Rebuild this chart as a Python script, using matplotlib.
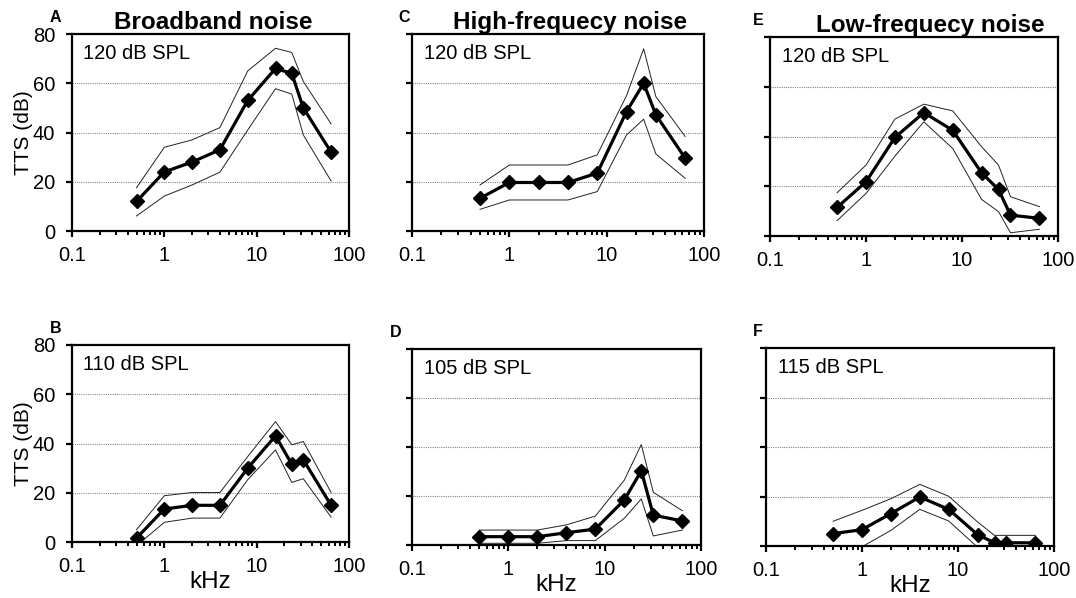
import numpy as np
import matplotlib
matplotlib.use("Agg")
from matplotlib import pyplot as plt
from matplotlib.ticker import FixedLocator, NullFormatter

plt.rcParams['font.family'] = ['Liberation Sans', 'DejaVu Sans']

# frequencies (kHz)
freqs = [0.5, 1, 2, 4, 8, 16, 24, 32, 64]

# A: broadband 120 dB
a_mean = [12, 24, 28, 33, 53, 66, 64, 50, 32]
a_up = [17.6, 34, 37, 42, 65, 74.2, 72.5, 60.7, 43.5]
a_lo = [6.1, 14.2, 18.7, 23.9, 41, 57.8, 55.6, 39, 20.3]

# B: broadband 110 dB
b_mean = [1.6, 13.4, 14.9, 14.9, 30, 43.1, 31.6, 33.4, 14.9]
b_up = [5, 18.8, 20.1, 20.1, 34.7, 48.9, 39.5, 40.8, 20.1]
b_lo = [-1.5, 8, 9.7, 9.7, 25.3, 37.4, 24.2, 25.7, 10.1]

# C: high-frequency 120 dB
c_mean = [13.3, 19.7, 19.7, 19.7, 23.5, 48.5, 60, 47.2, 29.6]
c_up = [18.7, 26.8, 26.8, 26.8, 30.9, 55, 74, 54.6, 38.4]
c_lo = [8.8, 12.6, 12.6, 12.6, 16, 39, 45.4, 31.3, 21.4]

# D: high-frequency 105 dB
d_mean = [3.4, 3.4, 3.4, 5, 6.5, 18.4, 30.3, 12.2, 9.8]
d_up = [6.1, 6.1, 6.1, 8.2, 11.8, 26.5, 41, 21.5, 14]
d_lo = [0.7, 0.7, 0.7, 1.8, 1.8, 10.9, 18.8, 3.7, 6.1]

# E: low-frequency 120 dB
e_mean = [11.5, 21.8, 39.6, 49.6, 42.5, 25.4, 18.7, 8.4, 7.1]
e_up = [17.4, 28.5, 47, 53, 50.3, 35.9, 28.5, 15.8, 11.8]
e_lo = [6.2, 17.1, 32.1, 45.9, 35.2, 14.7, 9.8, 1.3, 2.7]

# F: low-frequency 115 dB
f_mean = [5, 6.6, 13.1, 19.8, 14.8, 4.6, 1.3, 1.3, 1.3]
f_up = [10, 14.4, 19.1, 24.9, 20.1, 9.7, 4.3, 4.3, 4.3]
f_lo = [-5, -0.3, 6.3, 14.8, 10.1, -0.5, -1, -1, -1]

titles = ["Broadband noise", "High-frequecy noise", "Low-frequecy noise"]
title_x = [0.51, 0.54, 0.555]

W, H = 1076, 598
fig = plt.figure(figsize=(W / 100, H / 100), dpi=100)

# pixel boxes: left, right, top, bottom ; letter offset in px
panels = [
    ("A", (72, 349, 34, 231), -22, a_mean, a_up, a_lo, "120 dB SPL", 0, 0),
    ("B", (72, 349, 345, 542), -22, b_mean, b_up, b_lo, "110 dB SPL", 0, 1),
    ("C", (412, 704, 34, 231), -14, c_mean, c_up, c_lo, "120 dB SPL", 1, 0),
    ("D", (412, 701, 349, 545), -22, d_mean, d_up, d_lo, "105 dB SPL", 1, 1),
    ("E", (770, 1058, 37, 236), -17, e_mean, e_up, e_lo, "120 dB SPL", 2, 0),
    ("F", (766, 1054, 348, 546), -13, f_mean, f_up, f_lo, "115 dB SPL", 2, 1),
]

for letter, (l, r, t, b), loff, mean, up, lo, level, col, row in panels:
    ax = fig.add_axes([l / W, 1 - b / H, (r - l) / W, (b - t) / H])
    ax.plot(freqs, up, color='#222222', lw=0.7)
    ax.plot(freqs, lo, color='#222222', lw=0.7)
    ax.plot(freqs, mean, color='black', lw=2.3, marker='D', markersize=7.5)
    ax.set_xscale('log')
    ax.set_xlim(0.1, 100)
    ax.set_ylim(0, 80)
    ax.set_yticks([0, 20, 40, 60, 80])
    ax.xaxis.set_major_locator(FixedLocator([0.1, 1, 10, 100]))
    ax.set_xticklabels(["0.1", "1", "10", "100"])
    ax.xaxis.set_minor_locator(FixedLocator(
        [m * d for d in (0.1, 1, 10) for m in range(2, 10)]))
    ax.xaxis.set_minor_formatter(NullFormatter())
    for y in (20, 40, 60):
        ax.axhline(y, color='#888888', lw=0.8, ls=(0, (1, 1)), zorder=0)
    for s in ax.spines.values():
        s.set_linewidth(1.6)
    ax.tick_params(which='major', direction='out', length=4, width=1.6,
                   labelsize=14.5)
    ax.tick_params(axis='x', pad=7)
    ax.tick_params(axis='y', pad=8)
    ax.tick_params(which='minor', direction='out', length=3, width=1.4)
    if col == 0:
        ax.set_ylabel("TTS (dB)", fontsize=15, labelpad=0)
    else:
        ax.set_yticklabels([])
    if row == 1:
        ax.set_xlabel("kHz", fontsize=17.5, labelpad=-4)
    else:
        ax.set_title(titles[col], fontsize=17.5, fontweight='bold', pad=3,
                     x=title_x[col])
    ax.text(0.04, 0.95, level, transform=ax.transAxes, fontsize=14.5,
            va='top', ha='left')
    ax.text(loff / (r - l), 1.0 + 9 / (b - t), letter, transform=ax.transAxes,
            fontsize=11.5, fontweight='bold', va='bottom', ha='left')

fig.savefig("out.png", dpi=100)
